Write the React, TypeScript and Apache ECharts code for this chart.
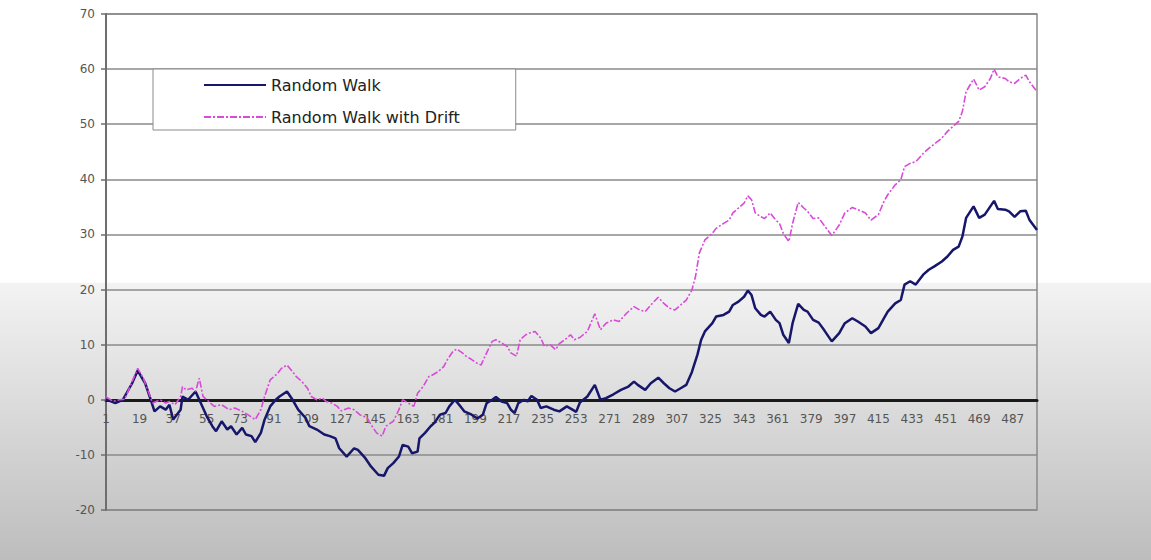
import React, { useEffect, useRef } from "react";
import * as echarts from "echarts";

// Category labels 1..500 (tick labels shown every 18th)
const categories: string[] = Array.from({ length: 500 }, (_, i) => String(i + 1));

// Random Walk (navy) — category number / value
const walkCat = [1, 6, 10, 15, 18, 22, 25, 27, 30, 33, 35, 37, 41, 42, 45, 49, 51, 53, 55, 58, 60, 63, 66, 68, 71, 74, 76, 79, 81, 84, 86, 89, 92, 94, 98, 101, 104, 108, 110, 114, 118, 121, 124, 126, 130, 134, 136, 140, 143, 147, 150, 152, 155, 158, 160, 163, 165, 168, 169, 172, 175, 177, 180, 183, 185, 188, 191, 193, 197, 200, 203, 205, 208, 210, 213, 216, 218, 220, 222, 225, 227, 229, 232, 234, 237, 241, 244, 248, 251, 253, 255, 259, 263, 266, 269, 273, 277, 281, 284, 286, 290, 293, 297, 300, 303, 306, 309, 312, 315, 318, 320, 322, 326, 328, 332, 335, 337, 340, 343, 345, 347, 349, 352, 354, 357, 360, 362, 364, 367, 369, 372, 375, 377, 380, 383, 386, 390, 394, 397, 401, 404, 408, 411, 415, 418, 420, 424, 427, 429, 432, 435, 439, 442, 445, 449, 452, 455, 458, 460, 462, 466, 469, 472, 475, 477, 479, 483, 485, 488, 491, 494, 496, 500];
const walkVal = [0.1, -0.6, 0, 3, 5.3, 3, 0, -2.1, -1.2, -1.8, -0.9, -3.6, -1.8, 0.6, 0, 1.5, 0, -1.5, -3, -4.8, -5.7, -3.9, -5.4, -4.8, -6.3, -5.1, -6.3, -6.6, -7.7, -6, -3.6, -1.2, 0, 0.6, 1.5, 0, -1.8, -3.3, -4.8, -5.4, -6.3, -6.6, -7, -8.8, -10.3, -8.8, -9.1, -10.6, -12.1, -13.6, -13.8, -12.4, -11.5, -10.3, -8.2, -8.5, -9.7, -9.4, -7, -6, -4.8, -4.2, -2.7, -2.4, -1.2, 0, -1.2, -2.1, -2.7, -3.4, -2.7, -0.6, 0, 0.5, -0.3, -0.6, -1.8, -2.4, -0.6, 0, -0.3, 0.7, 0, -1.5, -1.2, -1.8, -2.1, -1.2, -1.8, -2.2, -0.5, 0.6, 2.7, 0, 0.3, 1, 1.8, 2.4, 3.3, 2.7, 1.8, 3, 4, 3, 2.1, 1.5, 2.1, 2.7, 5, 8.2, 10.9, 12.4, 13.9, 15.1, 15.4, 16, 17.2, 17.8, 18.7, 19.8, 19, 16.6, 15.4, 15.1, 16, 14.5, 13.9, 11.8, 10.3, 13.9, 17.4, 16.3, 16, 14.5, 14, 12.6, 10.6, 12.1, 13.9, 14.8, 14.2, 13.3, 12.1, 13, 14.8, 16, 17.5, 18.1, 20.9, 21.5, 20.9, 22.7, 23.6, 24.2, 25.1, 26, 27.2, 27.8, 29.6, 33, 35.1, 33, 33.6, 35.1, 36.1, 34.6, 34.5, 34.2, 33.2, 34.2, 34.3, 32.6, 30.8];

// Random Walk with Drift (magenta)
const driftCat = [1, 5, 8, 11, 15, 18, 21, 24, 26, 30, 33, 35, 38, 41, 42, 44, 47, 49, 51, 53, 56, 59, 63, 67, 70, 74, 77, 81, 84, 86, 89, 93, 95, 98, 101, 103, 106, 109, 111, 114, 117, 119, 122, 125, 127, 131, 134, 137, 141, 143, 146, 149, 151, 155, 158, 160, 163, 166, 168, 171, 174, 176, 179, 182, 184, 187, 189, 192, 194, 197, 200, 202, 205, 208, 210, 213, 216, 218, 221, 223, 226, 228, 231, 234, 236, 239, 242, 244, 247, 250, 252, 255, 259, 263, 266, 269, 273, 276, 280, 284, 287, 290, 293, 297, 300, 303, 306, 309, 312, 315, 317, 319, 322, 326, 328, 332, 335, 337, 340, 343, 345, 347, 349, 352, 354, 357, 360, 362, 364, 367, 369, 372, 375, 377, 380, 383, 386, 390, 394, 397, 401, 404, 408, 411, 415, 418, 420, 424, 427, 429, 432, 435, 439, 442, 445, 449, 452, 455, 458, 460, 462, 466, 469, 472, 475, 477, 479, 483, 485, 488, 491, 494, 496, 500];
const driftVal = [0.5, -0.3, 0, 0.1, 3.3, 5.7, 3.9, 1.2, -0.6, 0, -0.6, -0.3, -0.9, 0.6, 2.4, 1.8, 2.1, 1.5, 3.9, 0.6, -0.3, -1.2, -0.9, -1.8, -1.5, -2.1, -2.7, -3.6, -1.8, 0.6, 3.6, 4.8, 5.7, 6.3, 5.1, 4.2, 3.3, 2.1, 0.6, 0, 0.3, -0.3, -0.6, -1.2, -2, -1.5, -1.8, -2.7, -3.3, -4.5, -6, -6.6, -4.8, -3.9, -1.8, 0, -0.6, -1.2, 1.2, 2.4, 4.2, 4.5, 5.1, 6, 7.3, 8.8, 9.2, 8.5, 7.9, 7.3, 6.6, 6.3, 8.5, 10.6, 10.9, 10.3, 9.7, 8.5, 7.9, 10.9, 11.8, 12.1, 12.4, 11.2, 9.7, 10, 9.1, 10.2, 10.9, 11.8, 10.9, 11.3, 12.4, 15.6, 12.7, 13.9, 14.5, 14.2, 15.7, 16.9, 16.3, 16, 17.2, 18.6, 17.5, 16.6, 16.3, 17.2, 18.1, 19.9, 22.4, 26.6, 29, 30.2, 31.1, 32, 32.6, 33.9, 34.8, 35.7, 37, 36.3, 33.9, 33.2, 32.9, 33.9, 32.6, 32, 30.2, 28.7, 32, 35.8, 34.8, 34.2, 32.9, 33, 31.6, 29.8, 31.7, 33.9, 34.9, 34.5, 33.9, 32.6, 33.6, 36, 37.2, 39, 39.9, 42.3, 42.9, 43.2, 44.7, 45.6, 46.4, 47.5, 48.7, 49.6, 50.5, 52.3, 55.9, 58.2, 56.2, 56.8, 58.3, 60, 58.6, 58.3, 57.7, 57.4, 58.3, 58.9, 57.7, 55.9];

const seriesNames = ["Random Walk", "Random Walk with Drift"];

export default function App() {
  const ref = useRef<HTMLDivElement>(null);

  useEffect(() => {
    if (!ref.current) return;
    const chart = echarts.init(ref.current, undefined, { renderer: "svg" });
    const toPairs = (cats: number[], vals: number[]) => cats.map((c, i) => [c - 1, vals[i]]);
    const font = "'DejaVu Sans', 'Liberation Sans', Arial, sans-serif";

    chart.setOption({
      animation: false,
      backgroundColor: new echarts.graphic.LinearGradient(0, 0, 0, 1, [
        { offset: 0, color: "#ffffff" },
        { offset: 0.504, color: "#ffffff" },
        { offset: 0.506, color: "#f3f3f3" },
        { offset: 1, color: "#bdbdbd" },
      ]),
      grid: {
        left: 106,
        right: 114,
        top: 14,
        bottom: 50,
        show: true,
        borderColor: "#8a8a8a",
        borderWidth: 1.5,
        backgroundColor: "transparent",
      },
      legend: {
        orient: "vertical",
        left: 153,
        top: 69,
        padding: [8, 56, 5, 50],
        itemWidth: 62,
        itemHeight: 14,
        itemGap: 16,
        backgroundColor: "#ffffff",
        borderColor: "#8a8a8a",
        borderWidth: 1,
        borderRadius: 0,
        data: seriesNames,
        itemStyle: { opacity: 0, borderWidth: 0 },
        textStyle: { fontFamily: font, fontSize: 16, color: "#222" },
      },
      xAxis: {
        type: "category",
        data: categories,
        boundaryGap: false,
        offset: -110,
        axisLine: { onZero: false, lineStyle: { color: "#1a1a1a", width: 3 } },
        axisTick: { show: false },
        splitLine: { show: false },
        axisLabel: {
          interval: 17,
          margin: 13,
          fontFamily: font,
          fontSize: 12,
          color: "#555",
        },
      },
      yAxis: {
        type: "value",
        min: -20,
        max: 70,
        interval: 10,
        axisLine: { show: true, lineStyle: { color: "#6e6e6e", width: 2 } },
        axisTick: { show: true, length: 5, lineStyle: { color: "#6e6e6e", width: 1.5 } },
        splitLine: { show: true, lineStyle: { color: "#8a8a8a", width: 1.5 } },
        axisLabel: { margin: 11, fontFamily: font, fontSize: 12, color: "#555" },
      },
      series: [
        {
          name: seriesNames[0],
          type: "line",
          data: toPairs(walkCat, walkVal),
          symbol: "none",
          lineStyle: { color: "#16166a", width: 2.5 },
          itemStyle: { color: "#16166a" },
        },
        {
          name: seriesNames[1],
          type: "line",
          data: toPairs(driftCat, driftVal),
          symbol: "none",
          lineStyle: { color: "#d94ad9", width: 1.6, type: [7, 2, 2, 2] },
          itemStyle: { color: "#d94ad9" },
        },
      ],
    });

    return () => chart.dispose();
  }, []);

  return (
    <div
      ref={ref}
      style={{ position: "fixed", left: 0, top: 0, width: 1151, height: 560 }}
    />
  );
}
